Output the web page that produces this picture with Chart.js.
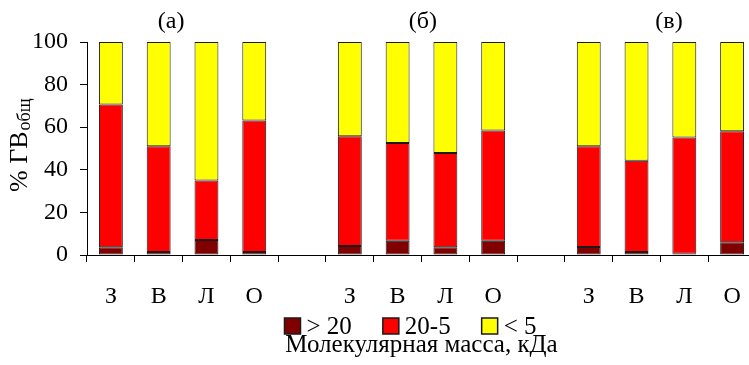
<!DOCTYPE html>
<html>
<head>
<meta charset="utf-8">
<script src="https://cdn.jsdelivr.net/npm/chart.js@4.4.1/dist/chart.umd.min.js"></script>
<style>
  html, body { margin: 0; padding: 0; background: #fff; overflow: hidden; }
  #wrap { position: relative; width: 780px; height: 365px; }
</style>
</head>
<body>
<div id="wrap"><canvas id="c"></canvas></div>
<script>
// Seasons (З – зима, В – весна, Л – лето, О – осень) for three sampling sites;
// empty slots separate the site groups.
const categories = ['З', 'В', 'Л', 'О', '', 'З', 'В', 'Л', 'О', '', 'З', 'В', 'Л', 'О'];

// Share of total humic substances (%) by molecular-mass fraction
const over20    = [3.6, 1.4, 7.1, 1.4, null, 4.2, 6.7, 3.6, 6.7, null, 3.8, 1.4, 0.6, 6.0];
const from20to5 = [67.0, 49.6, 27.9, 61.8, null, 51.5, 45.9, 44.3, 51.8, null, 47.2, 42.9, 54.6, 52.1];
const under5    = [29.4, 49.0, 65.0, 36.8, null, 44.3, 47.4, 52.1, 41.5, null, 49.0, 55.7, 44.8, 41.9];

const seriesNames = ['> 20', '20-5', '< 5'];
const yTicks = [0, 20, 40, 60, 80, 100];
const panelLabels = ['(а)', '(б)', '(в)'];
const axisTitleX = 'Молекулярная масса, кДа';

const SERIF = '"Liberation Serif", "Times New Roman", serif';

// Panel captions, y-axis caption with subscript, and a compact legend row
const captions = {
  id: 'captions',
  afterDraw(chart, args, opts) {
    const { ctx, chartArea, scales } = chart;
    ctx.save();
    ctx.fillStyle = '#000';
    ctx.font = '24px ' + SERIF;
    ctx.textAlign = 'center';
    ctx.textBaseline = 'middle';
    opts.anchors.forEach((a, i) => {
      ctx.fillText(panelLabels[i], scales.x.getPixelForValue(a), chartArea.top - 20);
    });

    // legend: swatch + label for each dataset, one centred row
    ctx.font = '25px ' + SERIF;
    ctx.textAlign = 'left';
    const box = 16, textGap = 6, itemGap = 31;
    const items = chart.data.datasets.map(ds => ({
      text: ds.label, color: ds.backgroundColor, border: ds.borderColor,
      w: box + textGap + ctx.measureText(ds.label).width
    }));
    const total = items.reduce((s, it) => s + it.w, 0) + itemGap * (items.length - 1);
    let x = (chartArea.left + chartArea.right) / 2 + opts.legendShift - total / 2;
    const rowY = chartArea.bottom + opts.legendOffset;
    items.forEach(it => {
      ctx.fillStyle = it.color;
      ctx.fillRect(x, rowY - box / 2, box, box);
      ctx.strokeStyle = it.border;
      ctx.lineWidth = 1.5;
      ctx.strokeRect(x, rowY - box / 2, box, box);
      ctx.fillStyle = '#000';
      ctx.fillText(it.text, x + box + textGap, rowY + 1);
      x += it.w + itemGap;
    });

    // rotated "% ГВ" with subscript "общ"
    ctx.translate(chartArea.left - 60, chartArea.top + 150);
    ctx.rotate(-Math.PI / 2);
    ctx.textAlign = 'left';
    ctx.textBaseline = 'alphabetic';
    ctx.font = '26px ' + SERIF;
    const main = '% ГВ';
    ctx.fillText(main, 0, 0);
    const w = ctx.measureText(main).width;
    ctx.font = '18px ' + SERIF;
    ctx.fillText('общ', w + 1, 3);
    ctx.restore();
  }
};

const common = {
  borderColor: '#1a1a1a',
  borderWidth: 1,
  borderSkipped: false,
  barPercentage: 0.5,
  categoryPercentage: 1.0
};

new Chart(document.getElementById('c'), {
  type: 'bar',
  data: {
    labels: categories,
    datasets: [
      Object.assign({ label: seriesNames[0], data: over20,    backgroundColor: '#800000' }, common),
      Object.assign({ label: seriesNames[1], data: from20to5, backgroundColor: '#ff0000' }, common),
      Object.assign({ label: seriesNames[2], data: under5,    backgroundColor: '#ffff00' }, common)
    ]
  },
  options: {
    responsive: true,
    maintainAspectRatio: false,
    devicePixelRatio: 1,
    animation: false,
    layout: { padding: { top: 42, right: 24, left: 0, bottom: 0 } },
    scales: {
      x: {
        stacked: true,
        grid: { offset: true, drawOnChartArea: false, color: '#000', tickLength: 7 },
        border: { color: '#000', width: 1 },
        ticks: {
          color: '#000',
          font: { family: SERIF, size: 24 },
          padding: 20,
          maxRotation: 0,
          autoSkip: false
        },
        afterFit(scale) { scale.height = 57; }
      },
      y: {
        stacked: true,
        min: 0,
        max: 100,
        grid: { drawOnChartArea: false, color: '#000', tickLength: 7 },
        border: { color: '#000', width: 1 },
        ticks: {
          color: '#000',
          font: { family: SERIF, size: 24 },
          padding: 12,
          stepSize: 20,
          callback: (v) => (yTicks.includes(v) ? String(v) : null)
        },
        afterFit(scale) { scale.width = 87; }
      }
    },
    plugins: {
      legend: { display: false },
      title: {
        display: true,
        position: 'bottom',
        fullSize: false,
        text: axisTitleX,
        color: '#000',
        font: { family: SERIF, size: 25, weight: 'normal' },
        padding: { top: 18, bottom: 5 }
      },
      tooltip: { enabled: false },
      captions: { anchors: [1.26, 6.53, 11.68], legendShift: -11, legendOffset: 71 }
    }
  },
  plugins: [captions]
});
</script>
</body>
</html>
